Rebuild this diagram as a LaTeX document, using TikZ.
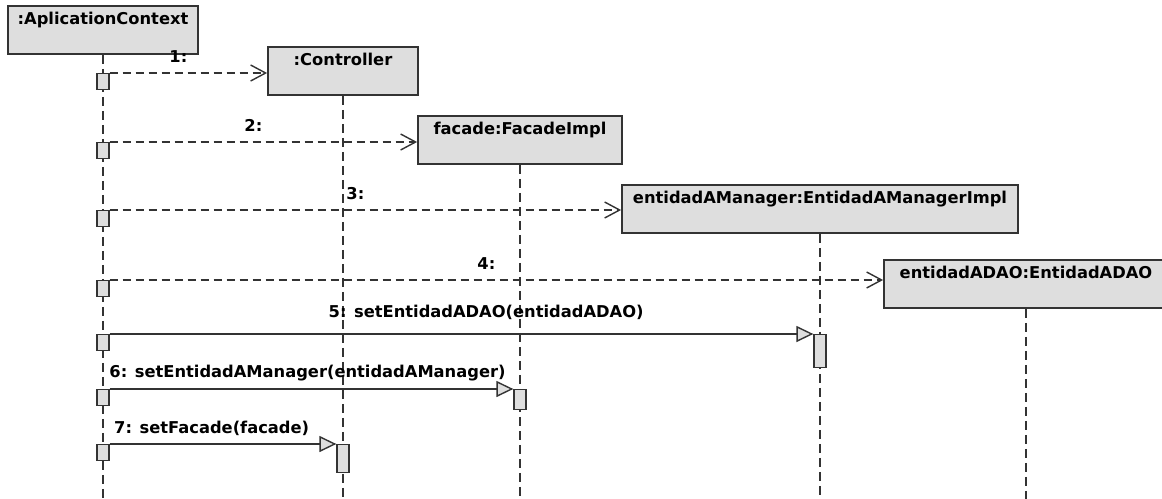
\documentclass[tikz,border=0pt]{standalone}
\usepackage{fontspec}
\setmainfont{DejaVu Sans}
\usetikzlibrary{arrows.meta}
\definecolor{boxgray}{HTML}{DEDEDE}
\definecolor{linegray}{HTML}{333333}

\begin{document}
\begin{tikzpicture}[x=1pt,y=-1pt,font=\fontsize{16.3}{19}\selectfont\bfseries]
	\tikzstyle{obj}=[draw=linegray,fill=boxgray,line width=1.8pt,anchor=north,inner xsep=6pt,inner ysep=5pt,text height=14pt,text depth=24pt]
	\tikzstyle{act}=[draw=linegray,fill=boxgray,line width=1.3pt,anchor=north,minimum width=12pt,inner sep=0pt]
	\tikzstyle{life}=[draw=linegray,line width=1.4pt,dash pattern=on 9pt off 5pt]
	\tikzstyle{call}=[draw=linegray,line width=1.4pt,dash pattern=on 8pt off 5pt,-{Straight Barb[length=15pt,width=16pt]}]
	\tikzstyle{sync}=[draw=linegray,line width=1.4pt,-{Triangle[length=17pt,width=16pt,fill=boxgray]}]
	\useasboundingbox (0,0) rectangle (1162,498);
	\clip (0,0) rectangle (1162,498);
	% objects
	\node[obj,minimum width=190pt] (ac) at (103,5) {:AplicationContext};
	\node[obj,minimum width=150pt] (ctrl) at (343,46) {:Controller};
	\node[obj,minimum width=204pt] (fac) at (520,115) {facade:FacadeImpl};
	\node[obj,minimum width=396pt] (mgr) at (820,184) {entidadAManager:EntidadAManagerImpl};
	\node[obj,minimum width=284pt] (dao) at (1026,259) {entidadADAO:EntidadADAO};
	\foreach \o in {ac,ctrl,fac,mgr,dao}
		\draw[life] (\o.south) -- (\o.south |- 0,505);
	% activations
	\foreach \i/\y in {1/73,2/142,3/210,4/280,5/334,6/389,7/444}
		\node[act,minimum height=16pt] (s\i) at (103,\y) {};
	\node[act,minimum height=33pt] (t5) at (mgr |- s5.north) {};
	\node[act,minimum height=20pt] (t6) at (fac |- s6.north) {};
	\node[act,minimum height=28pt] (t7) at (ctrl |- s7.north) {};
	% messages
	\foreach \i/\o in {1/ctrl,2/fac,3/mgr,4/dao}
		\draw[call] (s\i.north east) -- (s\i.north east -| \o.west)
			node[pos=.5,anchor=base east,xshift=3pt,yshift=11pt]{\i:};
	\draw[sync] (s5.north east) -- (t5.north west)
		node[pos=.535,anchor=base,yshift=17pt]{5: setEntidadADAO(entidadADAO)};
	\draw[sync] (s6.north east) -- (t6.north west)
		node[pos=.49,anchor=base,yshift=12pt]{6: setEntidadAManager(entidadAManager)};
	\draw[sync] (s7.north east) -- (t7.north west)
		node[pos=.45,anchor=base,yshift=11pt]{7: setFacade(facade)};
\end{tikzpicture}
\end{document}
